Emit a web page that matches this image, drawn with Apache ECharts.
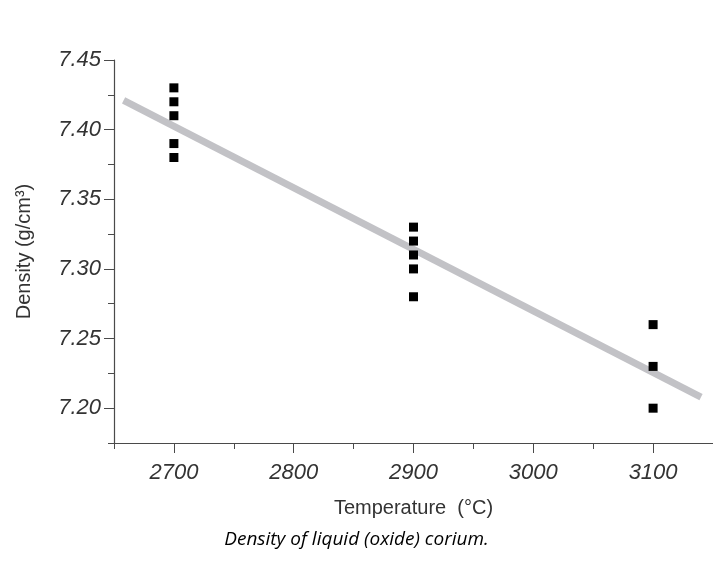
<!DOCTYPE html>
<html>
<head>
<meta charset="utf-8">
<script src="https://cdn.jsdelivr.net/npm/echarts@6/dist/echarts.min.js"></script>
<style>
html,body{margin:0;padding:0;background:#fff;}
#chart{width:713px;height:563px;}
</style>
</head>
<body>
<div id="chart"></div>
<script>
// Data
const temps2700 = [2700, 2700, 2700, 2700, 2700];
const dens2700 = [7.43, 7.42, 7.41, 7.39, 7.38];
const temps2900 = [2900, 2900, 2900, 2900, 2900];
const dens2900 = [7.33, 7.32, 7.31, 7.30, 7.28];
const temps3100 = [3100, 3100, 3100];
const dens3100 = [7.26, 7.23, 7.20];
const fitTemps = [2658, 3140];
const fitDens = [7.421, 7.208];
const yMajorTicks = [7.20, 7.25, 7.30, 7.35, 7.40, 7.45];
const xMajorTicks = [2700, 2800, 2900, 3000, 3100];

const points = [];
[[temps2700, dens2700], [temps2900, dens2900], [temps3100, dens3100]].forEach(([t, d]) => {
  t.forEach((v, i) => points.push([v, d[i]]));
});
const fitLine = fitTemps.map((t, i) => [t, fitDens[i]]);

const axisColor = '#4a4a4a';
const labelFont = {fontFamily: 'Liberation Sans', fontStyle: 'italic', fontSize: 22, color: '#333'};

const chart = echarts.init(document.getElementById('chart'), null, {renderer: 'canvas'});
chart.setOption({
  animation: false,
  backgroundColor: '#fff',
  grid: {left: 114, right: 0, top: 60, bottom: 120, containLabel: false, outerBoundsMode: 'none'},
  xAxis: [
    {
      type: 'value', min: 2650, max: 3150, interval: 50,
      axisLine: {show: true, lineStyle: {color: axisColor, width: 1.2}},
      axisTick: {show: true, length: 6, lineStyle: {color: axisColor}},
      splitLine: {show: false},
      axisLabel: Object.assign({
        margin: 19,
        formatter: v => (xMajorTicks.indexOf(Math.round(v)) >= 0 ? String(Math.round(v)) : '')
      }, labelFont),
      name: 'Temperature  (\u00B0C)',
      nameLocation: 'middle',
      nameGap: 55,
      nameTextStyle: {fontFamily: 'Liberation Sans', fontSize: 20, color: '#333'}
    },
    {
      type: 'value', min: 2650, max: 3150, interval: 50, position: 'bottom',
      axisLine: {show: false},
      axisTick: {show: true, length: 10, customValues: xMajorTicks, lineStyle: {color: axisColor}},
      axisLabel: {show: false},
      splitLine: {show: false}
    }
  ],
  yAxis: [
    {
      type: 'value', min: 7.175, max: 7.45, interval: 0.025,
      axisLine: {show: true, lineStyle: {color: axisColor, width: 1.2}},
      axisTick: {show: true, length: 6, lineStyle: {color: axisColor}},
      splitLine: {show: false},
      axisLabel: Object.assign({
        margin: 13,
        formatter: v => (Math.round(v * 1000) % 50 === 0 && v > 7.18 ? v.toFixed(2) : '')
      }, labelFont),
      name: 'Density (g/cm\u00B3)',
      nameLocation: 'middle',
      nameGap: 80,
      nameTextStyle: {fontFamily: 'Liberation Sans', fontSize: 20, color: '#333'}
    },
    {
      type: 'value', min: 7.175, max: 7.45, interval: 0.025, position: 'left',
      axisLine: {show: false},
      axisTick: {show: true, length: 10, customValues: yMajorTicks, lineStyle: {color: axisColor}},
      axisLabel: {show: false},
      splitLine: {show: false}
    }
  ],
  series: [
    {
      type: 'line',
      data: fitLine,
      showSymbol: false,
      symbol: 'none',
      lineStyle: {color: '#c2c2c6', width: 7, cap: 'butt'},
      z: 1
    },
    {
      type: 'scatter',
      data: points,
      symbol: 'rect',
      symbolSize: 9,
      itemStyle: {color: '#000', opacity: 1},
      z: 3
    }
  ],
  graphic: [
    {
      type: 'text',
      left: 'center',
      top: 530,
      style: {
        text: 'Density of liquid (oxide) corium.',
        fontFamily: 'Open Sans',
        fontStyle: 'italic',
        fontSize: 19,
        fill: '#000'
      }
    }
  ]
});
</script>
</body>
</html>
